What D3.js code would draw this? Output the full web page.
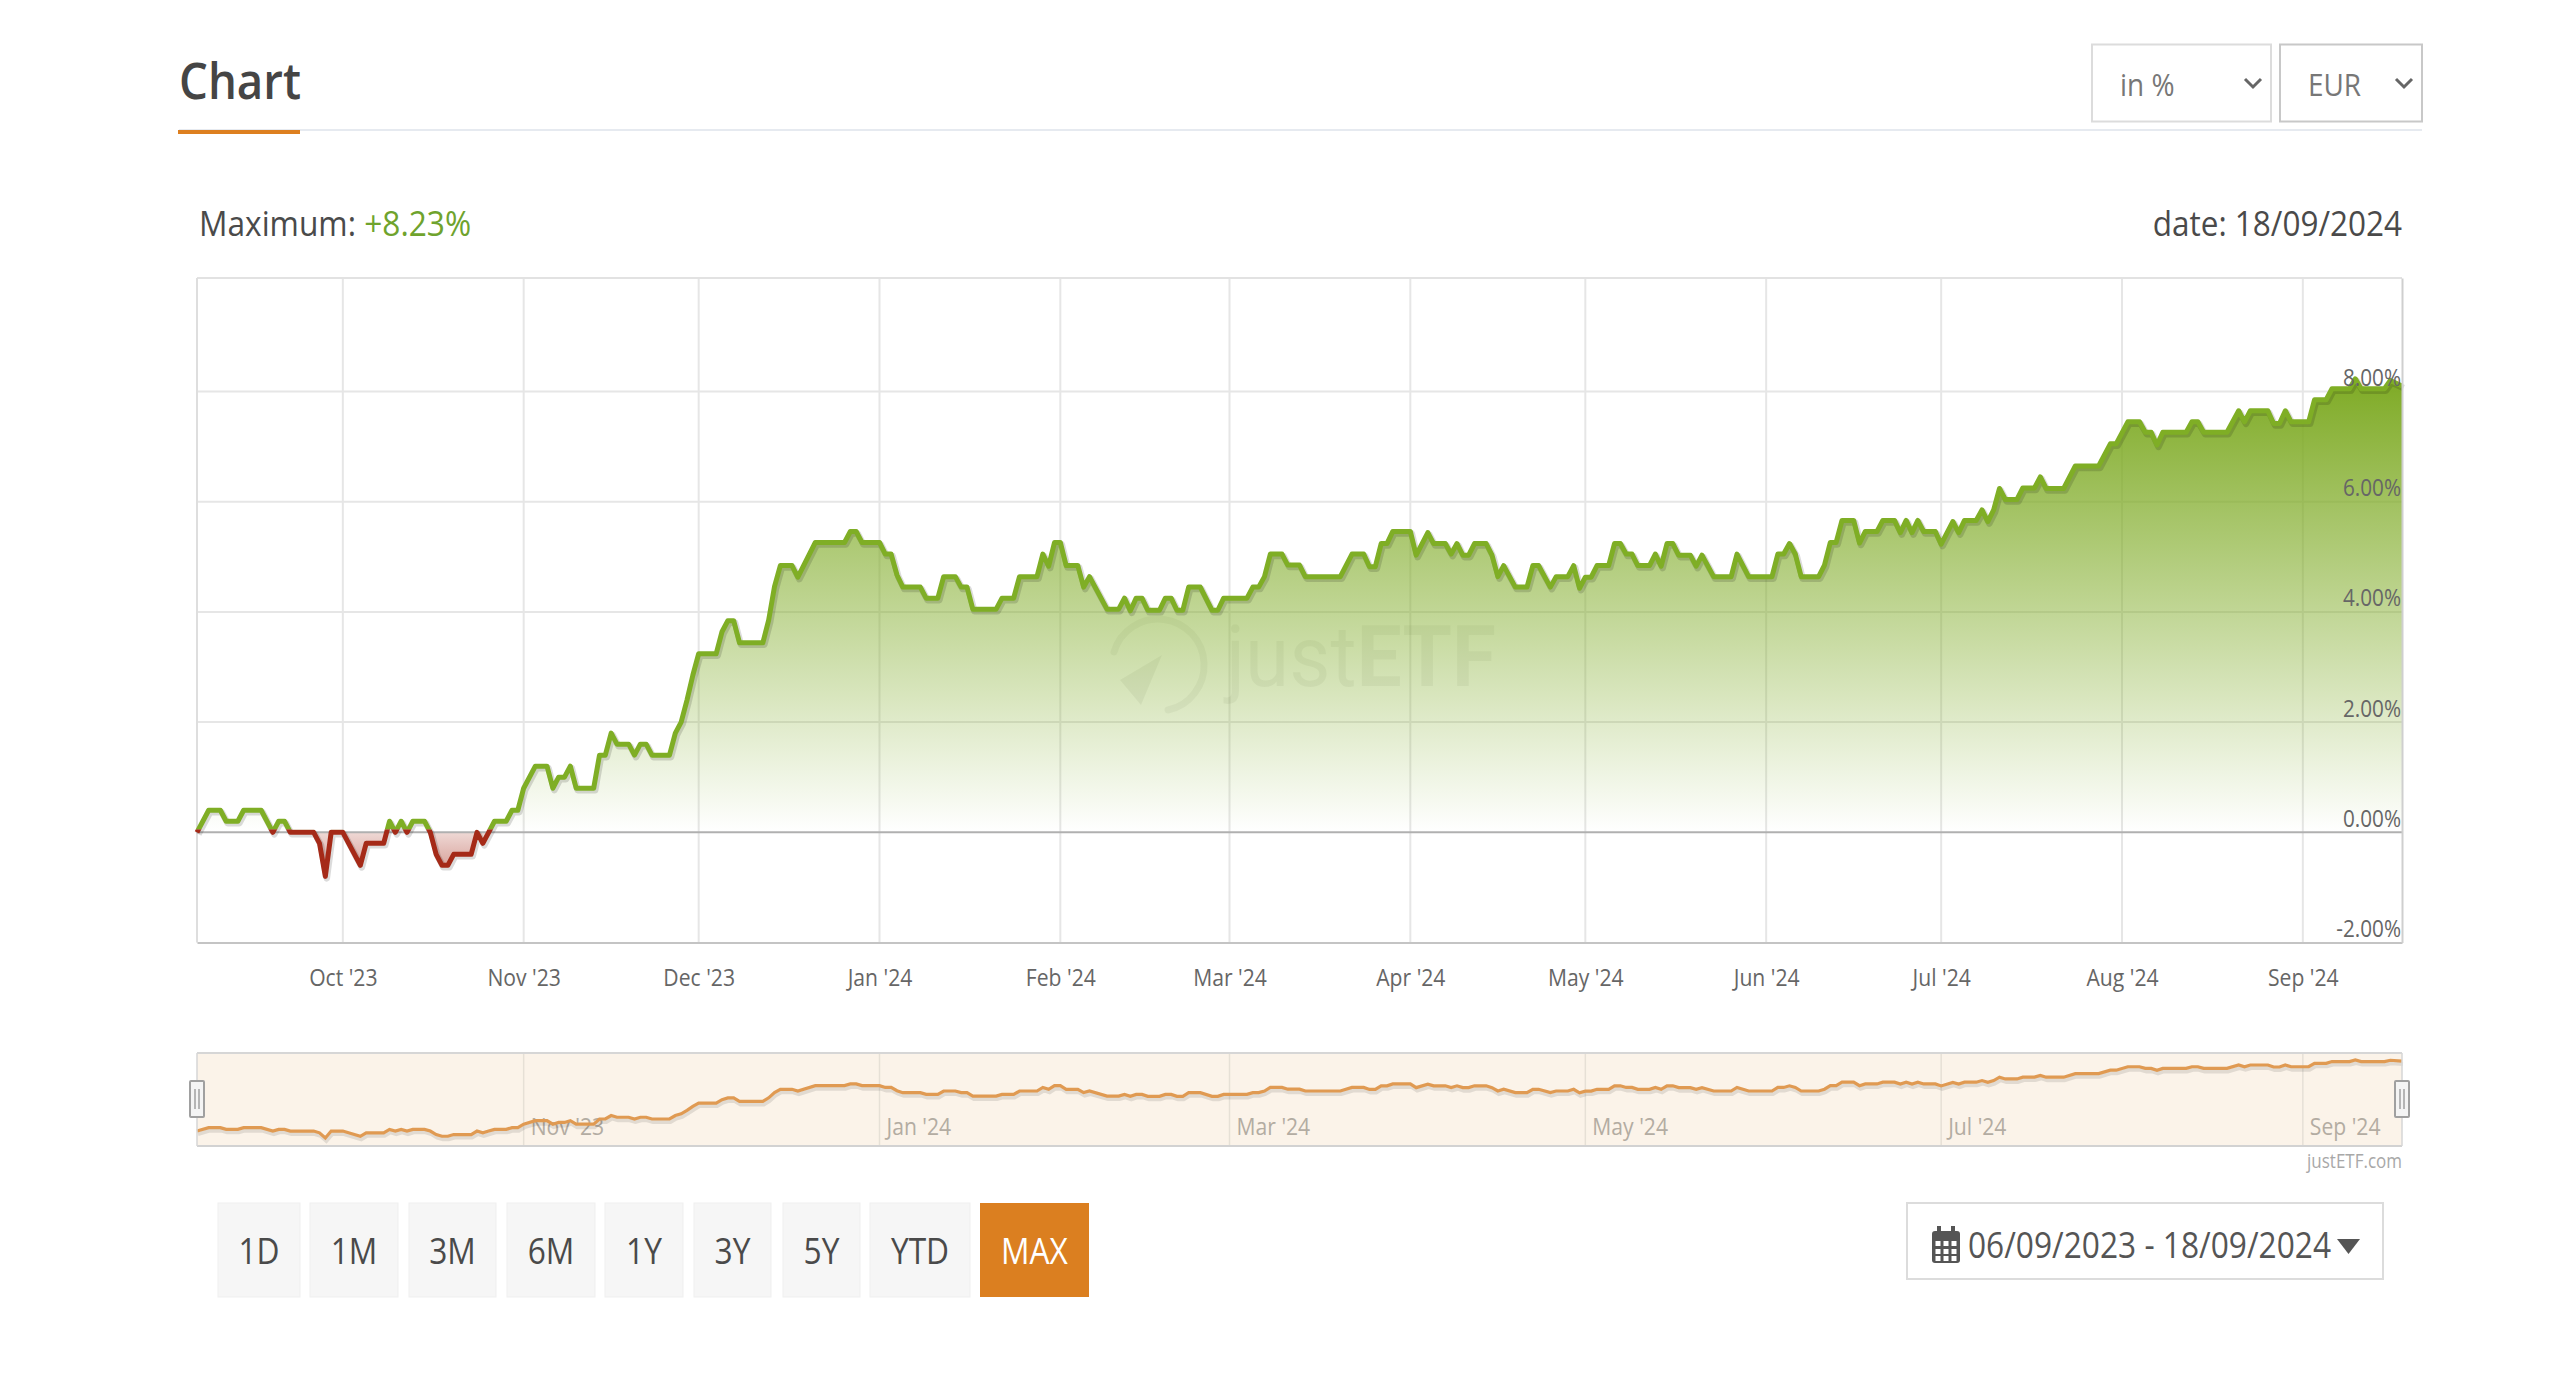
<!DOCTYPE html>
<html>
<head>
<meta charset="utf-8">
<script src="https://cdn.jsdelivr.net/npm/d3@7/dist/d3.min.js"></script>
<style>
html,body{margin:0;padding:0;background:#fff;overflow:hidden}
svg{display:block}
text{font-family:"Open Sans",sans-serif}
</style>
</head>
<body>
<svg id="c" width="2560" height="1376"></svg>
<script>
// ---- data ----
const startDate = "2023-09-06";
const endDate = "2024-09-18";
const dayOffsets = [0,2,4,5,7,8,11,13,14,15,16,20,21,22,23,25,28,29,32,33,34,35,36,37,39,40,41,42,43,44,47,48,49,50,51,53,54,55,56,58,60,61,62,63,64,65,68,69,70,71,72,74,75,76,77,78,81,82,83,84,85,86,
89,90,91,92,93,97,98,99,100,102,103,106,111,112,113,114,117,118,119,120,121,124,125,127,128,130,131,132,133,137,138,140,141,144,145,146,147,148,149,151,152,153,156,158,159,160,161,162,163,165,166,167,168,169,170,172,174,175,176,
180,181,182,183,184,186,187,189,190,196,198,200,201,202,203,204,205,208,209,211,212,214,215,216,217,218,219,221,222,223,224,226,228,229,230,232,233,235,236,237,238,239,240,242,243,244,245,246,247,249,250,251,252,253,254,256,257,258,260,263,264,266,270,271,272,273,274,
275,278,279,280,281,282,284,285,286,288,289,291,292,293,294,295,296,298,299,301,302,303,305,306,307,308,309,310,312,313,315,316,317,320,322,326,328,329,331,333,334,335,336,337,341,342,343,344,348,350,351,352,355,356,357,358,359,362,363,365,366,369,370,371,375,376,378];
const returnsPct = [0,.4,.4,.2,.2,.4,.4,0,.2,.2,0,0,-.2,-.8,0,0,-.6,-.2,-.2,.2,0,.2,0,.2,.2,0,-.4,-.6,-.6,-.4,-.4,0,-.2,0,.2,.2,.4,.4,.8,1.2,1.2,.8,1,1,1.2,.8,.8,1.4,1.4,1.8,1.6,1.6,1.4,1.6,1.6,1.4,1.4,1.8,2,2.4,2.85,3.24,
3.24,3.64,3.84,3.84,3.44,3.44,3.85,4.46,4.84,4.84,4.63,5.26,5.26,5.46,5.46,5.26,5.26,5.05,5.05,4.67,4.45,4.45,4.25,4.25,4.64,4.64,4.45,4.45,4.05,4.05,4.25,4.25,4.64,4.64,5.05,4.83,5.26,5.26,4.84,4.84,4.45,4.64,4.05,4.05,4.25,4.02,4.25,4.25,4.03,4.03,4.25,4.25,4.03,4.03,4.45,4.45,4.03,4.03,4.25,
4.25,4.45,4.45,4.64,5.05,5.05,4.85,4.85,4.64,4.64,5.05,5.05,4.82,4.82,5.24,5.24,5.46,5.46,5.03,5.44,5.24,5.24,5.05,5.24,5.03,5.03,5.24,5.24,5.03,4.64,4.84,4.45,4.45,4.84,4.84,4.45,4.64,4.64,4.84,4.43,4.63,4.63,4.84,4.84,5.24,5.24,5.05,5.05,4.84,4.84,5.05,4.83,5.24,5.24,5.03,5.03,4.83,5.03,4.64,4.64,5.05,4.64,4.64,5.05,5.05,5.24,5.05,
4.64,4.64,4.85,5.26,5.26,5.66,5.66,5.25,5.46,5.46,5.66,5.66,5.44,5.66,5.44,5.66,5.46,5.46,5.23,5.64,5.44,5.66,5.66,5.85,5.64,5.85,6.24,6.04,6.04,6.25,6.25,6.45,6.24,6.24,6.65,6.65,7.05,7.05,7.45,7.45,7.26,7.26,7.03,7.26,7.26,7.45,7.45,7.26,7.26,7.65,7.45,7.65,7.65,7.42,7.42,7.65,7.45,7.45,7.85,7.85,8.05,8.05,8.23,8.05,8.05,8.2,8.1];
const yTicks = [-2,0,2,4,6,8];
const rangeButtons = ["1D","1M","3M","6M","1Y","3Y","5Y","YTD","MAX"];
const buttonEdges = [[218,300],[310,398],[409,496],[507,595],[605,683],[694,771],[783,860],[870,970],[980,1089]];
const maxLabel = "+8.23%";
const dateLabel = "date: 18/09/2024";
const periodLabel = "06/09/2023 - 18/09/2024";

// ---- layout ----
const L = 197, R = 2402, T = 278, B = 942.5;
const navT = 1053, navB = 1146;
const start = new Date(startDate + "T00:00:00Z"), end = new Date(endDate + "T00:00:00Z");
const points = d3.zip(dayOffsets, returnsPct).map(([d, v]) => ({date: d3.utcDay.offset(start, d), v}));

const x = d3.scaleUtc().domain([start, end]).range([L, R]);
const y = d3.scaleLinear().domain([-2, 10.06]).range([B, T]);
const yNav = d3.scaleLinear().domain([-0.8, 8.23]).range([1138, 1060]);
const fmt = d3.utcFormat("%b '%y");
const months = d3.utcMonth.range(d3.utcMonth.ceil(start), end);

const svg = d3.select("#c");
const defs = svg.append("defs");
// narrows text horizontally about its anchor, as in the reference
function squeeze(sel, k) {
  sel.attr("transform", function () {
    const a = +this.getAttribute("x") || 0;
    return `translate(${a},0) scale(${k},1) translate(${-a},0)`;
  });
  return sel;
}
function vGrad(id, y1, y2, stops) {
  const g = defs.append("linearGradient").attr("id", id).attr("gradientUnits", "userSpaceOnUse")
    .attr("x1", 0).attr("x2", 0).attr("y1", y1).attr("y2", y2);
  stops.forEach(s => g.append("stop").attr("offset", s[0]).attr("stop-color", s[1]).attr("stop-opacity", s[2]));
}
vGrad("gGreen", y(8.2), y(0), [[0, "#7fab26", 1], [1, "#7fab26", 0]]);
vGrad("gRed", y(0), y(-0.8), [[0, "#a52a18", 0.18], [1, "#a52a18", 0.5]]);
const zero = y(0);
defs.append("clipPath").attr("id", "above").append("rect").attr("x", L).attr("y", T).attr("width", R - L).attr("height", zero - T);
defs.append("clipPath").attr("id", "below").append("rect").attr("x", L).attr("y", zero).attr("width", R - L).attr("height", B - zero);
defs.append("clipPath").attr("id", "lineAbove").append("rect").attr("x", L - 3).attr("y", T).attr("width", R - L + 3).attr("height", zero - T - 3);
defs.append("clipPath").attr("id", "lineBelow").append("rect").attr("x", L - 3).attr("y", zero - 3).attr("width", R - L + 3).attr("height", B - zero + 3);

// ---- header ----
svg.append("text").attr("x", 179).attr("y", 99).attr("font-size", 50).attr("font-weight", 600).attr("fill", "#454545").attr("textLength", 122).attr("lengthAdjust", "spacingAndGlyphs").text("Chart");
svg.append("rect").attr("x", 179).attr("y", 129).attr("width", 2243).attr("height", 2).attr("fill", "#e6eaf0");
svg.append("rect").attr("x", 178).attr("y", 130).attr("width", 122).attr("height", 4).attr("fill", "#dd7f1f");

function select(x0, x1, label, tx, chev, stroke) {
  svg.append("rect").attr("x", x0).attr("y", 44.5).attr("width", x1 - x0).attr("height", 77).attr("fill", "#fff").attr("stroke", stroke).attr("stroke-width", 2);
  squeeze(svg.append("text").attr("x", tx).attr("y", 96).attr("font-size", 31).attr("fill", "#777").text(label), 0.9);
  svg.append("path").attr("d", d3.line()([[chev - 8, 79], [chev, 87], [chev + 8, 79]])).attr("fill", "none").attr("stroke", "#666").attr("stroke-width", 3);
}
select(2092, 2271, "in %", 2120, 2253, "#dcdcdc");
select(2280, 2422, "EUR", 2308, 2404, "#c8c8c8");

const maxT = svg.append("text").attr("x", 199).attr("y", 236).attr("font-size", 35).attr("fill", "#4a4a4a");
maxT.append("tspan").text("Maximum: ");
maxT.append("tspan").attr("fill", "#6fa32d").text(maxLabel);
squeeze(maxT, 0.905);
squeeze(svg.append("text").attr("x", 2402).attr("y", 236).attr("text-anchor", "end").attr("font-size", 35).attr("fill", "#4a4a4a").text(dateLabel), 0.9);

// ---- grid ----
const grid = svg.append("g");
grid.selectAll(".mg").data(months).join("line").attr("x1", d => x(d)).attr("x2", d => x(d)).attr("y1", T).attr("y2", B).attr("stroke", "#e6e6e6").attr("stroke-width", 2);
grid.selectAll(".hg").data(yTicks.filter(v => v > 0)).join("line").attr("x1", L).attr("x2", R).attr("y1", d => y(d)).attr("y2", d => y(d)).attr("stroke", "#e6e6e6").attr("stroke-width", 2);
grid.append("line").attr("x1", L).attr("x2", R).attr("y1", T).attr("y2", T).attr("stroke", "#e2e2e2").attr("stroke-width", 2);
grid.append("line").attr("x1", L).attr("x2", L).attr("y1", T).attr("y2", B).attr("stroke", "#dedede").attr("stroke-width", 2);

// ---- watermark ----
const wm = svg.append("g");
wm.append("path").attr("d", "M1114,652 A46,46 0 1 1 1168,710").attr("fill", "none").attr("stroke", "#000").attr("stroke-opacity", 0.05).attr("stroke-width", 7).attr("stroke-linecap", "round");
wm.append("path").attr("d", "M1120,680 L1162,655 L1141,705 Z").attr("fill", "#000").attr("fill-opacity", 0.06);
const wmT = wm.append("text").attr("x", 1226).attr("y", 686).attr("font-size", 86).attr("fill", "#000").attr("fill-opacity", 0.055).attr("font-family", "Roboto, sans-serif");
wmT.append("tspan").attr("font-weight", 400).attr("font-family", "Roboto").text("just");
wmT.append("tspan").attr("font-weight", 700).attr("font-family", "Roboto").text("ETF");
squeeze(wmT, 0.93);

// ---- series ----
const area = d3.area().x(d => x(d.date)).y0(zero).y1(d => y(d.v));
const line = d3.line().x(d => x(d.date)).y(d => y(d.v));
svg.append("path").datum(points).attr("d", area).attr("fill", "url(#gGreen)").attr("clip-path", "url(#above)");
svg.append("path").datum(points).attr("d", area).attr("fill", "url(#gRed)").attr("clip-path", "url(#below)");
svg.append("line").attr("x1", L).attr("x2", R).attr("y1", zero).attr("y2", zero).attr("stroke", "#b0b0b0").attr("stroke-width", 2);
const lw = 5;
svg.append("path").datum(points).attr("d", line).attr("transform", "translate(1.5,2)").attr("fill", "none").attr("stroke", "#000").attr("stroke-opacity", 0.14).attr("stroke-width", lw + 1.5).attr("stroke-linejoin", "round");
svg.append("path").datum(points).attr("d", line).attr("fill", "none").attr("stroke", "#a52a18").attr("stroke-width", lw).attr("stroke-linejoin", "round").attr("clip-path", "url(#lineBelow)");
svg.append("path").datum(points).attr("d", line).attr("fill", "none").attr("stroke", "#7fae25").attr("stroke-width", lw).attr("stroke-linejoin", "round").attr("clip-path", "url(#lineAbove)");

// ---- axes ----
const xAxis = svg.append("g").attr("transform", `translate(0,${B})`)
  .call(d3.axisBottom(x).tickValues(months).tickFormat(fmt).tickSize(0).tickPadding(27));
xAxis.select(".domain").attr("stroke", "#c4c4c4").attr("stroke-width", 2);
squeeze(xAxis.selectAll("text").attr("font-size", 23).attr("fill", "#666").attr("font-family", '"Open Sans",sans-serif'), 0.92);

const yAxis = svg.append("g").attr("transform", `translate(${R},0)`)
  .call(d3.axisLeft(y).tickValues(yTicks).tickFormat(d => (d < 0 ? "-" : "") + d3.format(".2f")(Math.abs(d)) + "%").tickSize(0).tickPadding(1));
yAxis.select(".domain").attr("stroke", "#cfcfcf").attr("stroke-width", 2);
squeeze(yAxis.selectAll("text").attr("font-size", 23).attr("fill", "#666").attr("dy", -6).attr("font-family", '"Open Sans",sans-serif'), 0.9);

// ---- navigator ----
const nav = svg.append("g");
nav.append("rect").attr("x", L).attr("y", navT).attr("width", R - L).attr("height", navB - navT).attr("fill", "#fbf3e9");
const navTicks = months.filter(d => d.getUTCMonth() % 2 === 0);
nav.selectAll(".ng").data(navTicks).join("line").attr("x1", d => x(d)).attr("x2", d => x(d)).attr("y1", navT).attr("y2", navB).attr("stroke", "#e6e0d6").attr("stroke-width", 1.5);
squeeze(nav.selectAll(".nl").data(navTicks).join("text").attr("x", d => x(d) + 7).attr("y", 1135).attr("font-size", 23).attr("fill", "#b3aca2").text(fmt), 0.92);
const navLine = d3.line().x(d => x(d.date)).y(d => yNav(d.v));
nav.append("path").datum(points).attr("d", navLine).attr("transform", "translate(1,3)").attr("fill", "none").attr("stroke", "#000").attr("stroke-opacity", 0.1).attr("stroke-width", 4);
nav.append("path").datum(points).attr("d", navLine).attr("fill", "none").attr("stroke", "#e09a52").attr("stroke-width", 3.2);
nav.append("line").attr("x1", L).attr("x2", R).attr("y1", navT).attr("y2", navT).attr("stroke", "#d6d6d6").attr("stroke-width", 2);
nav.append("line").attr("x1", L).attr("x2", R).attr("y1", navB).attr("y2", navB).attr("stroke", "#d2d2d2").attr("stroke-width", 2);
nav.append("line").attr("x1", R).attr("x2", R).attr("y1", navT).attr("y2", navB).attr("stroke", "#d6d6d6").attr("stroke-width", 1.5);
nav.append("line").attr("x1", L).attr("x2", L).attr("y1", navT).attr("y2", navB).attr("stroke", "#d6d6d6").attr("stroke-width", 1.5);
[L, R].forEach(hx => {
  nav.append("rect").attr("x", hx - 7).attr("y", 1081).attr("width", 14).attr("height", 36).attr("rx", 1).attr("fill", "#f4f4f4").attr("stroke", "#a0a0a0").attr("stroke-width", 2);
  [-2, 2].forEach(o => nav.append("line").attr("x1", hx + o).attr("x2", hx + o).attr("y1", 1089).attr("y2", 1109).attr("stroke", "#a0a0a0").attr("stroke-width", 1.5));
});
squeeze(svg.append("text").attr("x", 2402).attr("y", 1168).attr("text-anchor", "end").attr("font-size", 20).attr("fill", "#a8a8a8").text("justETF.com"), 0.85);

// ---- buttons ----
const btn = svg.append("g").selectAll("g").data(d3.zip(rangeButtons, buttonEdges)).join("g");
btn.append("rect").attr("x", d => d[1][0]).attr("y", 1203).attr("width", d => d[1][1] - d[1][0]).attr("height", 94)
  .attr("fill", d => d[0] === "MAX" ? "#db7f20" : "#f6f6f6").attr("stroke", d => d[0] === "MAX" ? "none" : "#efefef");
squeeze(btn.append("text").attr("x", d => (d[1][0] + d[1][1]) / 2).attr("y", 1264).attr("text-anchor", "middle").attr("font-size", 36)
  .attr("fill", d => d[0] === "MAX" ? "#fff" : "#4a4a4a").text(d => d[0]), 0.88);

// ---- date-range button ----
svg.append("rect").attr("x", 1907).attr("y", 1203).attr("width", 476).attr("height", 76).attr("fill", "#fff").attr("stroke", "#dcdcdc").attr("stroke-width", 2);
const cal = svg.append("g").attr("fill", "#555");
cal.append("rect").attr("x", 1932).attr("y", 1231).attr("width", 28).attr("height", 32).attr("rx", 3);
[1937, 1951].forEach(cx => cal.append("rect").attr("x", cx).attr("y", 1226).attr("width", 4).attr("height", 8));
[1241, 1249, 1256].forEach(ry => [1935.5, 1943.5, 1951.5].forEach(rx =>
  cal.append("rect").attr("x", rx).attr("y", ry).attr("width", 5).attr("height", 5).attr("fill", "#fff")));
svg.append("text").attr("x", 1968).attr("y", 1258).attr("font-size", 36).attr("fill", "#555").attr("textLength", 363).attr("lengthAdjust", "spacingAndGlyphs").text(periodLabel);
svg.append("path").attr("d", "M2337,1239 L2360,1239 L2348.5,1254 Z").attr("fill", "#555");
</script>
</body>
</html>
